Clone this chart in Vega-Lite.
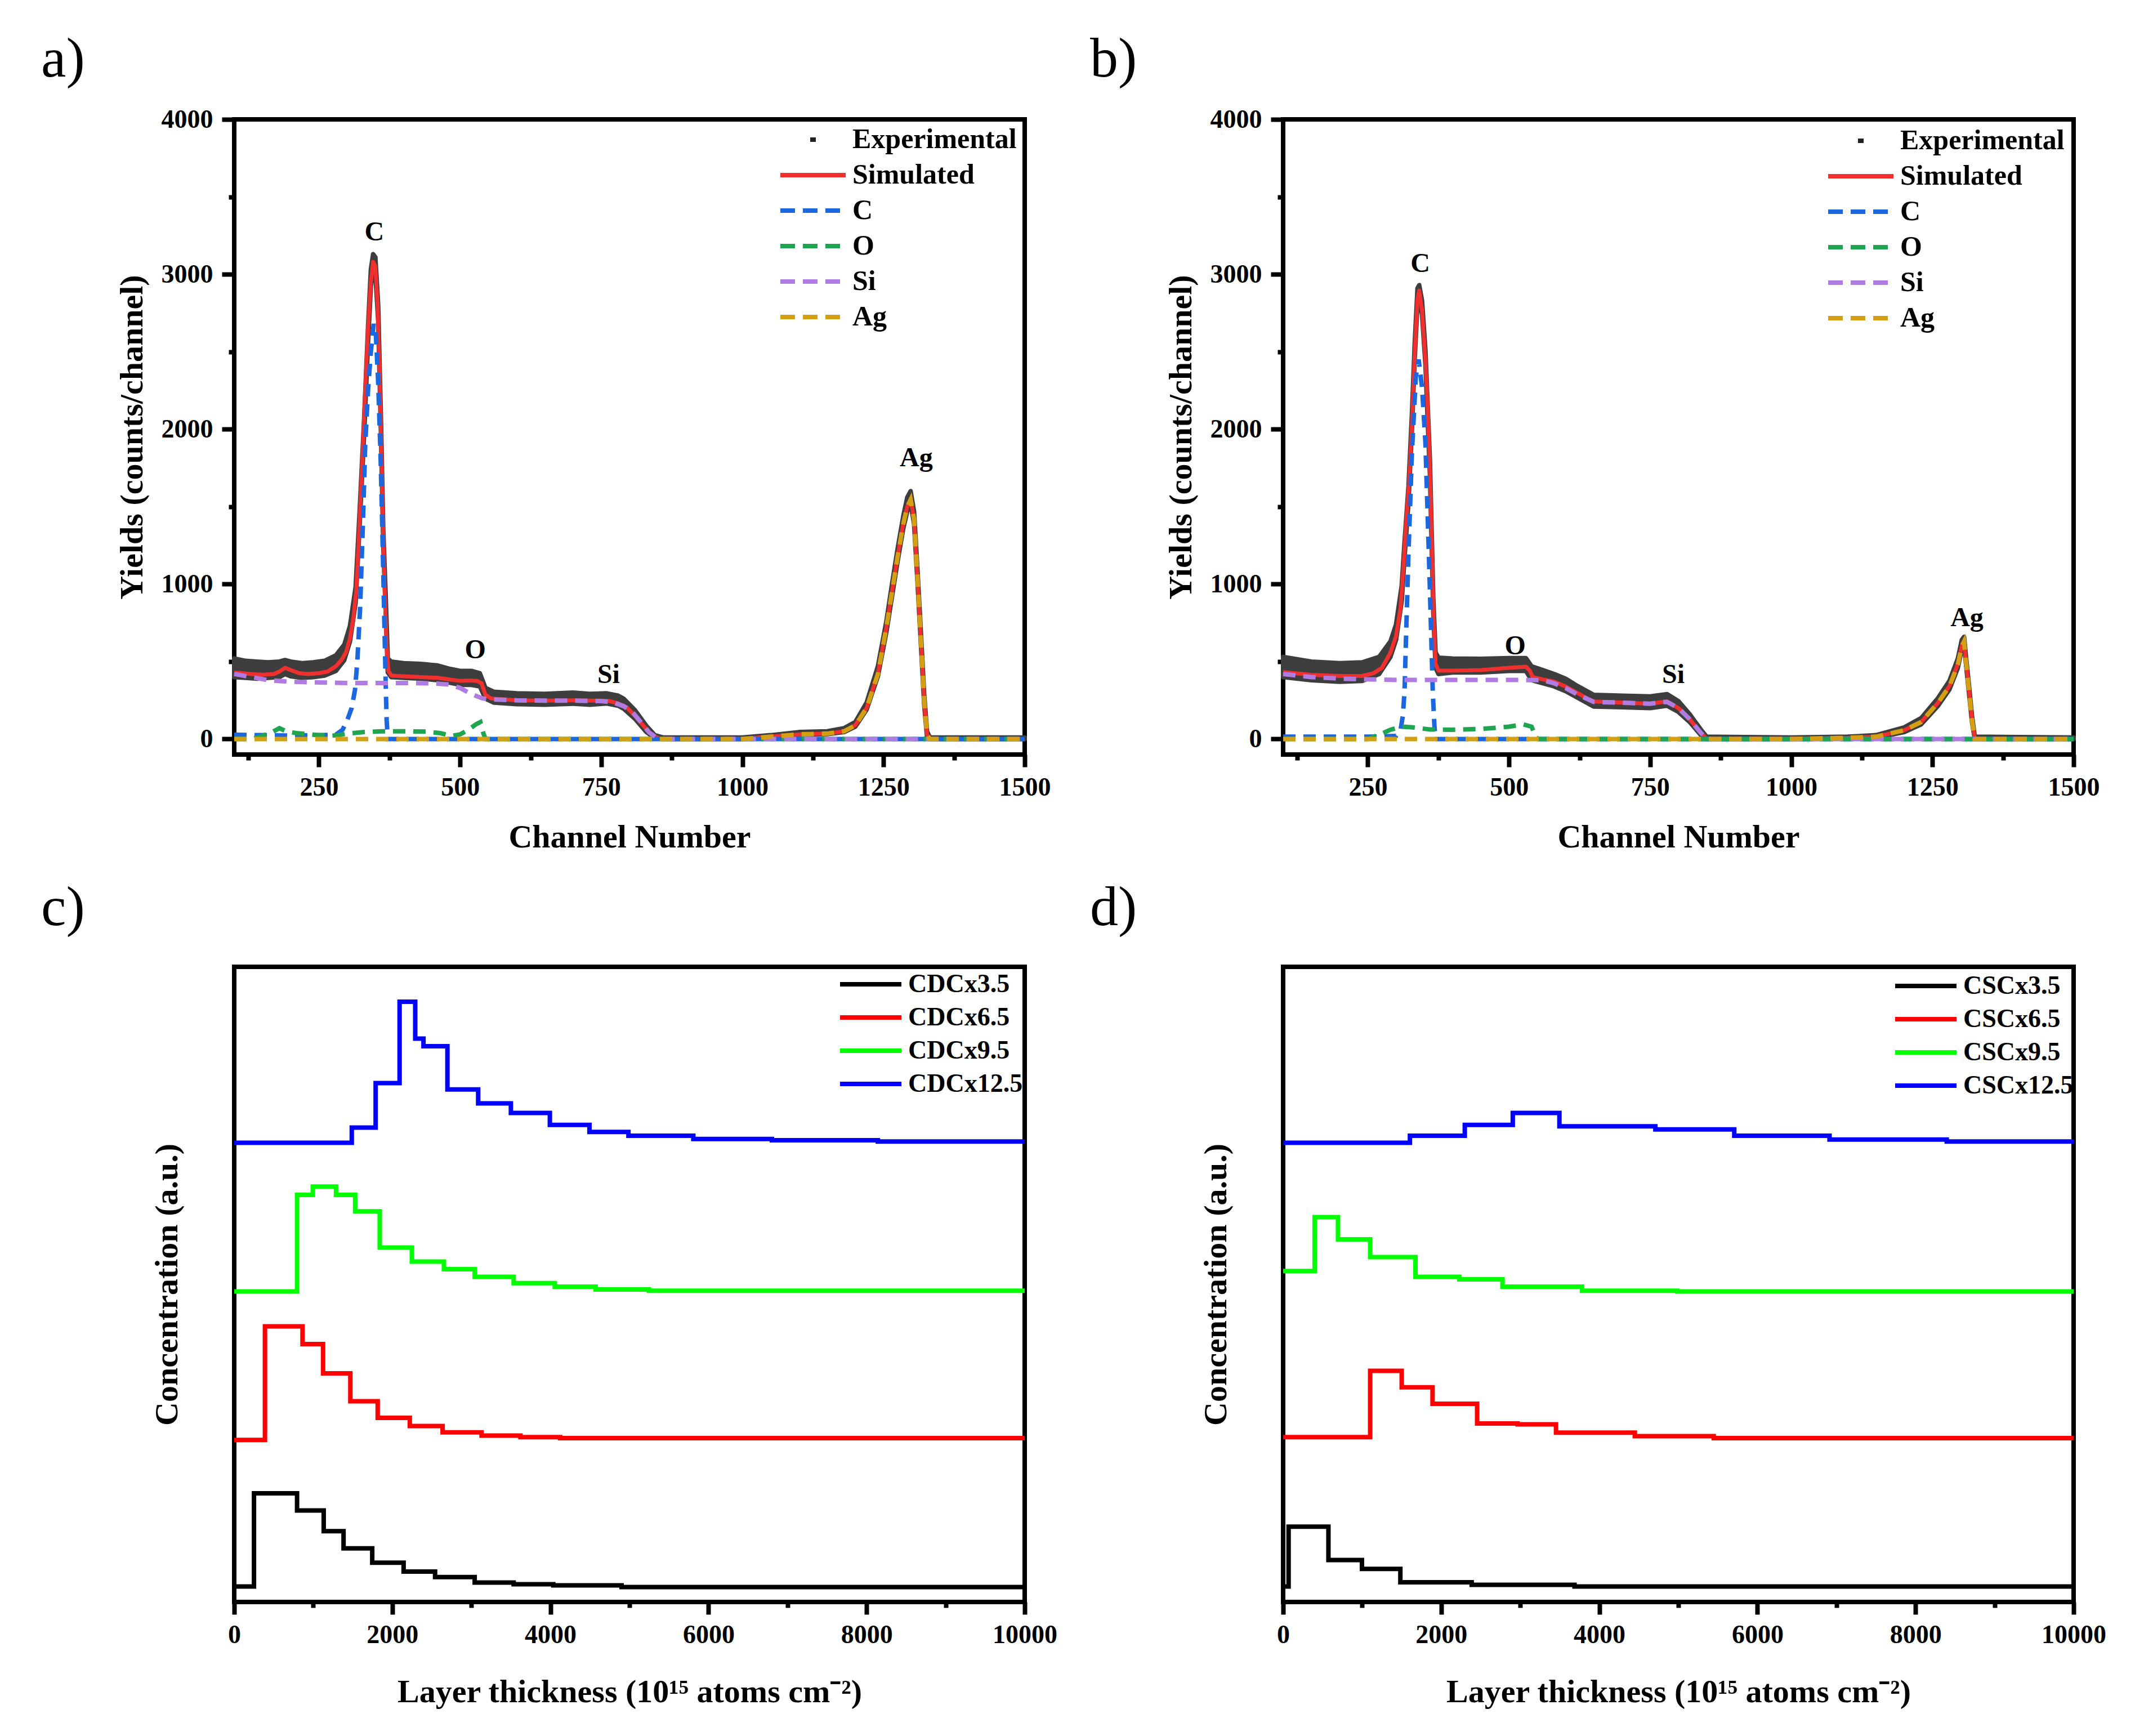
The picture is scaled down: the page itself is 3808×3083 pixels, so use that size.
{
 "$schema": "https://vega.github.io/schema/vega-lite/v6.json",
 "autosize": {"type": "none"},
 "padding": {"left": 416, "top": 212, "right": 3392, "bottom": 2871},
 "background": "white",
 "config": {
  "font": "Liberation Serif",
  "view": {"stroke": "black", "strokeWidth": 8},
  "axis": {"domain": false, "grid": false, "tickColor": "black", "tickWidth": 8, "tickSize": 22, "labelFont": "Liberation Serif", "labelFontWeight": "bold", "labelFontSize": 46, "labelColor": "black", "labelPadding": 14, "labelFlush": false, "labelOverlap": false, "titleFont": "Liberation Serif", "titleFontWeight": "bold", "titleFontSize": 58, "titleColor": "black"},
  "axisLeft": {"labelPadding": 16},
  "legend": {"labelFont": "Liberation Serif", "labelFontWeight": "bold", "labelColor": "black", "labelLimit": 2000, "padding": 0, "orient": "none", "symbolType": "stroke", "symbolStrokeWidth": 8, "labelOffset": 8},
  "title": {"font": "Liberation Serif", "fontSize": 100, "fontWeight": "normal", "color": "black", "anchor": "start", "frame": "group", "baseline": "alphabetic"}
 },
 "datasets": {
  "expA": [
   {"x":100,"lo":400,"hi":520},{"x":120,"lo":395,"hi":505},{"x":140,"lo":390,"hi":500},{"x":160,"lo":395,"hi":495},{"x":180,"lo":400,"hi":500},{"x":190,"lo":420,"hi":510},{"x":200,"lo":405,"hi":500},{"x":220,"lo":395,"hi":490},{"x":240,"lo":400,"hi":495},{"x":260,"lo":410,"hi":505},{"x":280,"lo":440,"hi":540},{"x":295,"lo":510,"hi":610},{"x":305,"lo":630,"hi":730},{"x":315,"lo":880,"hi":980},{"x":322,"lo":1370,"hi":1460},{"x":330,"lo":1960,"hi":2060},{"x":337,"lo":2560,"hi":2660},{"x":342,"lo":2920,"hi":3030},{"x":346,"lo":3050,"hi":3130},{"x":350,"lo":3000,"hi":3110},{"x":355,"lo":2700,"hi":2800},{"x":360,"lo":1950,"hi":2050},{"x":364,"lo":1250,"hi":1350},{"x":368,"lo":850,"hi":950},{"x":372,"lo":430,"hi":520},{"x":378,"lo":400,"hi":500},{"x":400,"lo":395,"hi":490},{"x":430,"lo":390,"hi":485},{"x":460,"lo":380,"hi":475},{"x":480,"lo":365,"hi":455},{"x":500,"lo":350,"hi":440},{"x":520,"lo":350,"hi":440},{"x":535,"lo":340,"hi":425},{"x":545,"lo":260,"hi":330},{"x":560,"lo":235,"hi":305},{"x":600,"lo":225,"hi":295},{"x":650,"lo":222,"hi":292},{"x":700,"lo":228,"hi":300},{"x":730,"lo":222,"hi":292},{"x":760,"lo":230,"hi":295},{"x":780,"lo":215,"hi":280},{"x":790,"lo":195,"hi":260},{"x":810,"lo":130,"hi":185},{"x":830,"lo":45,"hi":85},{"x":845,"lo":5,"hi":25},{"x":860,"lo":0,"hi":10},{"x":1000,"lo":0,"hi":10},{"x":1050,"lo":10,"hi":25},{"x":1100,"lo":28,"hi":45},{"x":1150,"lo":32,"hi":50},{"x":1180,"lo":45,"hi":70},{"x":1200,"lo":80,"hi":110},{"x":1220,"lo":190,"hi":235},{"x":1240,"lo":405,"hi":470},{"x":1255,"lo":690,"hi":760},{"x":1265,"lo":920,"hi":1000},{"x":1275,"lo":1150,"hi":1230},{"x":1285,"lo":1360,"hi":1440},{"x":1292,"lo":1470,"hi":1560},{"x":1298,"lo":1520,"hi":1600},{"x":1304,"lo":1390,"hi":1470},{"x":1310,"lo":1020,"hi":1100},{"x":1316,"lo":620,"hi":700},{"x":1322,"lo":220,"hi":290},{"x":1327,"lo":15,"hi":50},{"x":1332,"lo":0,"hi":10},{"x":1500,"lo":0,"hi":10}
  ],
  "specA": [
   {"s":"Simulated","x":100,"y":430},{"s":"Simulated","x":130,"y":420},{"s":"Simulated","x":150,"y":415},{"s":"Simulated","x":170,"y":420},{"s":"Simulated","x":180,"y":435},{"s":"Simulated","x":190,"y":460},{"s":"Simulated","x":200,"y":445},{"s":"Simulated","x":215,"y":425},{"s":"Simulated","x":230,"y":420},{"s":"Simulated","x":250,"y":425},{"s":"Simulated","x":265,"y":435},{"s":"Simulated","x":280,"y":470},{"s":"Simulated","x":290,"y":510},{"s":"Simulated","x":298,"y":560},{"s":"Simulated","x":305,"y":650},{"s":"Simulated","x":311,"y":780},{"s":"Simulated","x":316,"y":950},{"s":"Simulated","x":322,"y":1400},{"s":"Simulated","x":327,"y":1800},{"s":"Simulated","x":332,"y":2250},{"s":"Simulated","x":337,"y":2650},{"s":"Simulated","x":342,"y":2950},{"s":"Simulated","x":346,"y":3080},{"s":"Simulated","x":350,"y":3050},{"s":"Simulated","x":354,"y":2800},{"s":"Simulated","x":358,"y":2300},{"s":"Simulated","x":361,"y":1800},{"s":"Simulated","x":364,"y":1300},{"s":"Simulated","x":367,"y":900},{"s":"Simulated","x":370,"y":600},{"s":"Simulated","x":373,"y":440},{"s":"Simulated","x":378,"y":410},{"s":"Simulated","x":400,"y":405},{"s":"Simulated","x":430,"y":400},{"s":"Simulated","x":460,"y":395},{"s":"Simulated","x":480,"y":385},{"s":"Simulated","x":500,"y":375},{"s":"Simulated","x":515,"y":378},{"s":"Simulated","x":530,"y":375},{"s":"Simulated","x":538,"y":360},{"s":"Simulated","x":545,"y":285},{"s":"Simulated","x":555,"y":262},{"s":"Simulated","x":580,"y":255},{"s":"Simulated","x":600,"y":250},{"s":"Simulated","x":650,"y":248},{"s":"Simulated","x":700,"y":250},{"s":"Simulated","x":730,"y":248},{"s":"Simulated","x":750,"y":248},{"s":"Simulated","x":765,"y":245},{"s":"Simulated","x":780,"y":230},{"s":"Simulated","x":795,"y":205},{"s":"Simulated","x":810,"y":150},{"s":"Simulated","x":825,"y":85},{"s":"Simulated","x":840,"y":25},{"s":"Simulated","x":852,"y":5},{"s":"Simulated","x":860,"y":0},{"s":"Simulated","x":1000,"y":3},{"s":"Simulated","x":1050,"y":15},{"s":"Simulated","x":1100,"y":30},{"s":"Simulated","x":1150,"y":35},{"s":"Simulated","x":1180,"y":50},{"s":"Simulated","x":1200,"y":90},{"s":"Simulated","x":1220,"y":200},{"s":"Simulated","x":1240,"y":420},{"s":"Simulated","x":1255,"y":720},{"s":"Simulated","x":1265,"y":950},{"s":"Simulated","x":1275,"y":1180},{"s":"Simulated","x":1285,"y":1390},{"s":"Simulated","x":1292,"y":1500},{"s":"Simulated","x":1298,"y":1550},{"s":"Simulated","x":1304,"y":1420},{"s":"Simulated","x":1310,"y":1050},{"s":"Simulated","x":1316,"y":650},{"s":"Simulated","x":1322,"y":250},{"s":"Simulated","x":1327,"y":30},{"s":"Simulated","x":1332,"y":0},{"s":"Simulated","x":1500,"y":0},
   {"s":"C","x":100,"y":28},{"s":"C","x":150,"y":25},{"s":"C","x":200,"y":22},{"s":"C","x":250,"y":25},{"s":"C","x":280,"y":28},{"s":"C","x":292,"y":60},{"s":"C","x":300,"y":120},{"s":"C","x":308,"y":200},{"s":"C","x":314,"y":320},{"s":"C","x":318,"y":500},{"s":"C","x":323,"y":850},{"s":"C","x":328,"y":1400},{"s":"C","x":332,"y":1900},{"s":"C","x":337,"y":2250},{"s":"C","x":342,"y":2500},{"s":"C","x":347,"y":2680},{"s":"C","x":351,"y":2600},{"s":"C","x":355,"y":2300},{"s":"C","x":359,"y":1850},{"s":"C","x":362,"y":1400},{"s":"C","x":365,"y":900},{"s":"C","x":368,"y":400},{"s":"C","x":370,"y":120},{"s":"C","x":372,"y":0},{"s":"C","x":1500,"y":0},
   {"s":"O","x":100,"y":0},{"s":"O","x":130,"y":0},{"s":"O","x":145,"y":15},{"s":"O","x":165,"y":40},{"s":"O","x":180,"y":70},{"s":"O","x":192,"y":50},{"s":"O","x":210,"y":38},{"s":"O","x":240,"y":28},{"s":"O","x":265,"y":20},{"s":"O","x":285,"y":25},{"s":"O","x":300,"y":35},{"s":"O","x":330,"y":45},{"s":"O","x":360,"y":50},{"s":"O","x":400,"y":50},{"s":"O","x":440,"y":48},{"s":"O","x":465,"y":38},{"s":"O","x":485,"y":20},{"s":"O","x":500,"y":30},{"s":"O","x":515,"y":60},{"s":"O","x":528,"y":95},{"s":"O","x":536,"y":110},{"s":"O","x":541,"y":40},{"s":"O","x":545,"y":0},{"s":"O","x":1500,"y":0},
   {"s":"Si","x":100,"y":420},{"s":"Si","x":130,"y":400},{"s":"Si","x":160,"y":380},{"s":"Si","x":200,"y":370},{"s":"Si","x":250,"y":365},{"s":"Si","x":300,"y":362},{"s":"Si","x":400,"y":362},{"s":"Si","x":450,"y":360},{"s":"Si","x":480,"y":352},{"s":"Si","x":500,"y":330},{"s":"Si","x":520,"y":290},{"s":"Si","x":540,"y":262},{"s":"Si","x":560,"y":255},{"s":"Si","x":600,"y":250},{"s":"Si","x":650,"y":248},{"s":"Si","x":700,"y":248},{"s":"Si","x":750,"y":245},{"s":"Si","x":770,"y":238},{"s":"Si","x":790,"y":212},{"s":"Si","x":805,"y":175},{"s":"Si","x":820,"y":110},{"s":"Si","x":835,"y":42},{"s":"Si","x":848,"y":8},{"s":"Si","x":860,"y":0},{"s":"Si","x":1500,"y":0},
   {"s":"Ag","x":100,"y":0},{"s":"Ag","x":1000,"y":0},{"s":"Ag","x":1050,"y":15},{"s":"Ag","x":1100,"y":30},{"s":"Ag","x":1150,"y":35},{"s":"Ag","x":1180,"y":50},{"s":"Ag","x":1200,"y":88},{"s":"Ag","x":1220,"y":200},{"s":"Ag","x":1240,"y":420},{"s":"Ag","x":1255,"y":720},{"s":"Ag","x":1265,"y":950},{"s":"Ag","x":1275,"y":1180},{"s":"Ag","x":1285,"y":1390},{"s":"Ag","x":1292,"y":1500},{"s":"Ag","x":1298,"y":1545},{"s":"Ag","x":1304,"y":1420},{"s":"Ag","x":1310,"y":1050},{"s":"Ag","x":1316,"y":650},{"s":"Ag","x":1322,"y":250},{"s":"Ag","x":1327,"y":30},{"s":"Ag","x":1332,"y":0},{"s":"Ag","x":1500,"y":0}
  ],
  "labA": [{"t":"C","x":348,"y":3268},{"t":"O","x":527,"y":574},{"t":"Si","x":763,"y":414},{"t":"Ag","x":1308,"y":1812}],
  "expB": [
   {"x":100,"lo":400,"hi":530},{"x":150,"lo":380,"hi":500},{"x":200,"lo":370,"hi":490},{"x":240,"lo":375,"hi":495},{"x":270,"lo":420,"hi":530},{"x":290,"lo":530,"hi":630},{"x":300,"lo":640,"hi":740},{"x":310,"lo":890,"hi":990},{"x":315,"lo":1170,"hi":1270},{"x":322,"lo":1530,"hi":1630},{"x":328,"lo":1990,"hi":2090},{"x":333,"lo":2450,"hi":2550},{"x":338,"lo":2810,"hi":2910},{"x":341,"lo":2860,"hi":2930},{"x":346,"lo":2740,"hi":2830},{"x":352,"lo":2420,"hi":2510},{"x":360,"lo":1700,"hi":1800},{"x":366,"lo":810,"hi":900},{"x":370,"lo":460,"hi":560},{"x":375,"lo":420,"hi":525},{"x":400,"lo":430,"hi":520},{"x":450,"lo":430,"hi":518},{"x":500,"lo":440,"hi":522},{"x":530,"lo":440,"hi":522},{"x":540,"lo":380,"hi":470},{"x":560,"lo":360,"hi":445},{"x":580,"lo":340,"hi":420},{"x":600,"lo":310,"hi":390},{"x":620,"lo":270,"hi":345},{"x":650,"lo":210,"hi":285},{"x":700,"lo":205,"hi":280},{"x":750,"lo":200,"hi":275},{"x":780,"lo":215,"hi":290},{"x":800,"lo":175,"hi":245},{"x":820,"lo":110,"hi":160},{"x":840,"lo":25,"hi":60},{"x":850,"lo":0,"hi":15},{"x":1000,"lo":0,"hi":10},{"x":1100,"lo":3,"hi":15},{"x":1150,"lo":8,"hi":25},{"x":1200,"lo":45,"hi":75},{"x":1230,"lo":95,"hi":135},{"x":1260,"lo":215,"hi":265},{"x":1280,"lo":320,"hi":375},{"x":1295,"lo":460,"hi":520},{"x":1302,"lo":580,"hi":640},{"x":1306,"lo":610,"hi":660},{"x":1310,"lo":460,"hi":510},{"x":1315,"lo":285,"hi":335},{"x":1320,"lo":110,"hi":150},{"x":1325,"lo":0,"hi":15},{"x":1500,"lo":0,"hi":10}
  ],
  "specB": [
   {"s":"Simulated","x":100,"y":432},{"s":"Simulated","x":150,"y":414},{"s":"Simulated","x":200,"y":407},{"s":"Simulated","x":240,"y":407},{"s":"Simulated","x":260,"y":425},{"s":"Simulated","x":275,"y":460},{"s":"Simulated","x":290,"y":557},{"s":"Simulated","x":300,"y":664},{"s":"Simulated","x":308,"y":850},{"s":"Simulated","x":313,"y":1100},{"s":"Simulated","x":318,"y":1400},{"s":"Simulated","x":323,"y":1650},{"s":"Simulated","x":328,"y":2019},{"s":"Simulated","x":333,"y":2483},{"s":"Simulated","x":338,"y":2840},{"s":"Simulated","x":341,"y":2895},{"s":"Simulated","x":346,"y":2768},{"s":"Simulated","x":352,"y":2447},{"s":"Simulated","x":356,"y":2150},{"s":"Simulated","x":360,"y":1734},{"s":"Simulated","x":363,"y":1300},{"s":"Simulated","x":366,"y":842},{"s":"Simulated","x":370,"y":485},{"s":"Simulated","x":375,"y":442},{"s":"Simulated","x":400,"y":442},{"s":"Simulated","x":450,"y":445},{"s":"Simulated","x":500,"y":460},{"s":"Simulated","x":530,"y":467},{"s":"Simulated","x":537,"y":440},{"s":"Simulated","x":542,"y":400},{"s":"Simulated","x":560,"y":385},{"s":"Simulated","x":580,"y":371},{"s":"Simulated","x":600,"y":340},{"s":"Simulated","x":620,"y":300},{"s":"Simulated","x":640,"y":260},{"s":"Simulated","x":650,"y":243},{"s":"Simulated","x":700,"y":235},{"s":"Simulated","x":750,"y":228},{"s":"Simulated","x":770,"y":238},{"s":"Simulated","x":780,"y":243},{"s":"Simulated","x":800,"y":200},{"s":"Simulated","x":820,"y":128},{"s":"Simulated","x":840,"y":39},{"s":"Simulated","x":850,"y":3},{"s":"Simulated","x":860,"y":0},{"s":"Simulated","x":1000,"y":3},{"s":"Simulated","x":1100,"y":8},{"s":"Simulated","x":1150,"y":15},{"s":"Simulated","x":1200,"y":57},{"s":"Simulated","x":1230,"y":110},{"s":"Simulated","x":1260,"y":235},{"s":"Simulated","x":1280,"y":342},{"s":"Simulated","x":1295,"y":485},{"s":"Simulated","x":1302,"y":600},{"s":"Simulated","x":1306,"y":635},{"s":"Simulated","x":1310,"y":480},{"s":"Simulated","x":1315,"y":307},{"s":"Simulated","x":1320,"y":128},{"s":"Simulated","x":1325,"y":0},{"s":"Simulated","x":1500,"y":0},
   {"s":"C","x":100,"y":15},{"s":"C","x":250,"y":15},{"s":"C","x":300,"y":20},{"s":"C","x":308,"y":60},{"s":"C","x":312,"y":150},{"s":"C","x":315,"y":307},{"s":"C","x":318,"y":700},{"s":"C","x":322,"y":1199},{"s":"C","x":328,"y":1841},{"s":"C","x":335,"y":2340},{"s":"C","x":340,"y":2450},{"s":"C","x":346,"y":2269},{"s":"C","x":352,"y":1912},{"s":"C","x":358,"y":1199},{"s":"C","x":362,"y":700},{"s":"C","x":365,"y":307},{"s":"C","x":368,"y":80},{"s":"C","x":370,"y":0},{"s":"C","x":1500,"y":0},
   {"s":"O","x":100,"y":0},{"s":"O","x":250,"y":0},{"s":"O","x":260,"y":15},{"s":"O","x":275,"y":35},{"s":"O","x":290,"y":60},{"s":"O","x":310,"y":80},{"s":"O","x":330,"y":75},{"s":"O","x":360,"y":62},{"s":"O","x":400,"y":60},{"s":"O","x":450,"y":65},{"s":"O","x":500,"y":80},{"s":"O","x":525,"y":95},{"s":"O","x":540,"y":80},{"s":"O","x":548,"y":10},{"s":"O","x":552,"y":0},{"s":"O","x":1500,"y":0},
   {"s":"Si","x":100,"y":420},{"s":"Si","x":150,"y":400},{"s":"Si","x":200,"y":390},{"s":"Si","x":250,"y":385},{"s":"Si","x":300,"y":382},{"s":"Si","x":400,"y":382},{"s":"Si","x":500,"y":382},{"s":"Si","x":560,"y":380},{"s":"Si","x":580,"y":360},{"s":"Si","x":600,"y":330},{"s":"Si","x":620,"y":290},{"s":"Si","x":650,"y":240},{"s":"Si","x":700,"y":235},{"s":"Si","x":750,"y":228},{"s":"Si","x":770,"y":238},{"s":"Si","x":780,"y":240},{"s":"Si","x":800,"y":200},{"s":"Si","x":820,"y":128},{"s":"Si","x":840,"y":39},{"s":"Si","x":850,"y":3},{"s":"Si","x":860,"y":0},{"s":"Si","x":1500,"y":0},
   {"s":"Ag","x":100,"y":0},{"s":"Ag","x":1000,"y":0},{"s":"Ag","x":1100,"y":8},{"s":"Ag","x":1150,"y":15},{"s":"Ag","x":1200,"y":57},{"s":"Ag","x":1230,"y":110},{"s":"Ag","x":1260,"y":235},{"s":"Ag","x":1280,"y":340},{"s":"Ag","x":1295,"y":480},{"s":"Ag","x":1302,"y":600},{"s":"Ag","x":1306,"y":630},{"s":"Ag","x":1310,"y":480},{"s":"Ag","x":1315,"y":300},{"s":"Ag","x":1320,"y":120},{"s":"Ag","x":1325,"y":0},{"s":"Ag","x":1500,"y":0}
  ],
  "labB": [{"t":"C","x":343,"y":3065},{"t":"O","x":511,"y":599},{"t":"Si","x":791,"y":414},{"t":"Ag","x":1311,"y":781}],
  "depC": [
   {"s":"CDCx3.5","x":0,"y":2.44},{"s":"CDCx3.5","x":250,"y":17.1},{"s":"CDCx3.5","x":795,"y":14.4},{"s":"CDCx3.5","x":1132,"y":11.15},{"s":"CDCx3.5","x":1383,"y":8.45},{"s":"CDCx3.5","x":1746,"y":6.18},{"s":"CDCx3.5","x":2143,"y":4.79},{"s":"CDCx3.5","x":2541,"y":3.92},{"s":"CDCx3.5","x":3042,"y":3.05},{"s":"CDCx3.5","x":3535,"y":2.79},{"s":"CDCx3.5","x":4036,"y":2.61},{"s":"CDCx3.5","x":4900,"y":2.35},{"s":"CDCx3.5","x":10000,"y":2.35},
   {"s":"CDCx6.5","x":0,"y":25.5},{"s":"CDCx6.5","x":389,"y":43.4},{"s":"CDCx6.5","x":864,"y":40.6},{"s":"CDCx6.5","x":1124,"y":36.0},{"s":"CDCx6.5","x":1469,"y":31.6},{"s":"CDCx6.5","x":1815,"y":29.0},{"s":"CDCx6.5","x":2221,"y":27.7},{"s":"CDCx6.5","x":2636,"y":26.7},{"s":"CDCx6.5","x":3129,"y":26.2},{"s":"CDCx6.5","x":3621,"y":25.96},{"s":"CDCx6.5","x":4123,"y":25.8},{"s":"CDCx6.5","x":10000,"y":25.8},
   {"s":"CDCx9.5","x":0,"y":48.9},{"s":"CDCx9.5","x":795,"y":64.1},{"s":"CDCx9.5","x":994,"y":65.4},{"s":"CDCx9.5","x":1288,"y":64.1},{"s":"CDCx9.5","x":1530,"y":61.5},{"s":"CDCx9.5","x":1841,"y":55.8},{"s":"CDCx9.5","x":2247,"y":53.6},{"s":"CDCx9.5","x":2653,"y":52.4},{"s":"CDCx9.5","x":3042,"y":51.2},{"s":"CDCx9.5","x":3535,"y":50.2},{"s":"CDCx9.5","x":4054,"y":49.65},{"s":"CDCx9.5","x":4572,"y":49.2},{"s":"CDCx9.5","x":5246,"y":49.0},{"s":"CDCx9.5","x":10000,"y":49.0},
   {"s":"CDCx12.5","x":0,"y":72.3},{"s":"CDCx12.5","x":1487,"y":74.7},{"s":"CDCx12.5","x":1789,"y":81.7},{"s":"CDCx12.5","x":2092,"y":94.5},{"s":"CDCx12.5","x":2290,"y":88.7},{"s":"CDCx12.5","x":2394,"y":87.5},{"s":"CDCx12.5","x":2697,"y":80.7},{"s":"CDCx12.5","x":3086,"y":78.5},{"s":"CDCx12.5","x":3500,"y":77.0},{"s":"CDCx12.5","x":3993,"y":75.1},{"s":"CDCx12.5","x":4494,"y":74.0},{"s":"CDCx12.5","x":4987,"y":73.4},{"s":"CDCx12.5","x":5808,"y":72.9},{"s":"CDCx12.5","x":6802,"y":72.7},{"s":"CDCx12.5","x":8142,"y":72.5},{"s":"CDCx12.5","x":10000,"y":72.5}
  ],
  "depD": [
   {"s":"CSCx3.5","x":0,"y":2.44},{"s":"CSCx3.5","x":69,"y":11.85},{"s":"CSCx3.5","x":573,"y":6.6},{"s":"CSCx3.5","x":997,"y":5.2},{"s":"CSCx3.5","x":1483,"y":3.1},{"s":"CSCx3.5","x":2385,"y":2.7},{"s":"CSCx3.5","x":3686,"y":2.44},{"s":"CSCx3.5","x":10000,"y":2.44},
   {"s":"CSCx6.5","x":0,"y":25.96},{"s":"CSCx6.5","x":1101,"y":36.4},{"s":"CSCx6.5","x":1500,"y":33.8},{"s":"CSCx6.5","x":1890,"y":31.2},{"s":"CSCx6.5","x":2454,"y":28.1},{"s":"CSCx6.5","x":2966,"y":27.96},{"s":"CSCx6.5","x":3452,"y":26.66},{"s":"CSCx6.5","x":4449,"y":26.1},{"s":"CSCx6.5","x":5447,"y":25.8},{"s":"CSCx6.5","x":10000,"y":25.8},
   {"s":"CSCx9.5","x":0,"y":52.1},{"s":"CSCx9.5","x":399,"y":60.6},{"s":"CSCx9.5","x":694,"y":57.1},{"s":"CSCx9.5","x":1101,"y":54.3},{"s":"CSCx9.5","x":1674,"y":51.2},{"s":"CSCx9.5","x":2229,"y":50.8},{"s":"CSCx9.5","x":2775,"y":49.65},{"s":"CSCx9.5","x":3781,"y":49.0},{"s":"CSCx9.5","x":4987,"y":48.9},{"s":"CSCx9.5","x":10000,"y":48.9},
   {"s":"CSCx12.5","x":0,"y":72.3},{"s":"CSCx12.5","x":1604,"y":73.4},{"s":"CSCx12.5","x":2298,"y":75.1},{"s":"CSCx12.5","x":2905,"y":77.0},{"s":"CSCx12.5","x":3495,"y":74.9},{"s":"CSCx12.5","x":4709,"y":74.4},{"s":"CSCx12.5","x":5707,"y":73.4},{"s":"CSCx12.5","x":6912,"y":72.8},{"s":"CSCx12.5","x":8395,"y":72.5},{"s":"CSCx12.5","x":10000,"y":72.5}
  ]
 },
 "concat": [
  {
   "width": 1404, "height": 1128,
   "title": {"text": "a)", "offset": 32, "dx": -343},
   "layer": [
    {"data": {"name": "expA"}, "mark": {"type": "area", "fill": "#3d3d3d", "stroke": "#3d3d3d", "strokeWidth": 8, "strokeJoin": "round"},
     "encoding": {
      "x": {"field": "x", "type": "quantitative", "scale": {"domain": [100, 1500], "nice": false, "zero": false}, "axis": {"values": [250, 500, 750, 1000, 1250, 1500], "format": "d", "title": "Channel Number", "titlePadding": 37, "orient": "bottom"}},
      "y": {"field": "lo", "type": "quantitative", "scale": {"domain": [-100, 4000], "nice": false, "zero": false}, "axis": {"values": [0, 1000, 2000, 3000, 4000], "format": "d", "title": "Yields (counts/channel)", "titlePadding": 22, "orient": "left"}},
      "y2": {"field": "hi"}
     }},
    {"data": {"name": "specA"}, "transform": [{"filter": "datum.s === 'Simulated'"}], "mark": {"type": "line", "color": "#f0302f", "strokeWidth": 7, "strokeJoin": "round"},
     "encoding": {
      "x": {"field": "x", "type": "quantitative", "scale": {"domain": [100, 1500], "nice": false, "zero": false}, "axis": null},
      "y": {"field": "y", "type": "quantitative", "scale": {"domain": [-100, 4000], "nice": false, "zero": false}, "axis": null}
     }},
    {"data": {"name": "specA"}, "transform": [{"filter": "datum.s !== 'Simulated'"}], "mark": {"type": "line", "strokeWidth": 8, "strokeDash": [22, 14]},
     "encoding": {
      "x": {"field": "x", "type": "quantitative", "scale": {"domain": [100, 1500], "nice": false, "zero": false}, "axis": null},
      "y": {"field": "y", "type": "quantitative", "scale": {"domain": [-100, 4000], "nice": false, "zero": false}, "axis": null},
      "color": {"field": "s", "type": "nominal", "scale": {"domain": ["Experimental", "Simulated", "C", "O", "Si", "Ag"], "range": ["#222222", "#f0302f", "#1b67e0", "#1fa550", "#b07ce3", "#d49f12"]},
       "legend": {"title": null, "legendX": 966, "legendY": 11, "symbolSize": 13456, "clipHeight": 50, "labelFontSize": 50, "rowPadding": 13,
        "encode": {"symbols": {"update": {
         "strokeDash": {"signal": "datum.value === 'Experimental' ? [0, 53, 10, 200] : (datum.value === 'Simulated' ? [1, 0] : [26, 14])"}
        }}}}}
     }},
    {"data": {"name": "labA"}, "mark": {"type": "text", "fontSize": 48, "fontWeight": "bold", "font": "Liberation Serif", "color": "black", "baseline": "middle", "align": "center"},
     "encoding": {
      "x": {"field": "x", "type": "quantitative", "scale": {"domain": [100, 1500], "nice": false, "zero": false}, "axis": {"values": [125, 375, 625, 875, 1125, 1375], "labels": false, "tickSize": 10, "title": null, "orient": "bottom"}},
      "y": {"field": "y", "type": "quantitative", "scale": {"domain": [-100, 4000], "nice": false, "zero": false}, "axis": {"values": [500, 1500, 2500, 3500], "labels": false, "tickSize": 10, "title": null, "orient": "left"}},
      "text": {"field": "t"}
     }}
   ],
   "resolve": {"axis": {"x": "independent", "y": "independent"}}
  },
  {
   "width": 1404, "height": 1128,
   "title": {"text": "b)", "offset": 32, "dx": -343},
   "layer": [
    {"data": {"name": "expB"}, "mark": {"type": "area", "fill": "#3d3d3d", "stroke": "#3d3d3d", "strokeWidth": 8, "strokeJoin": "round"},
     "encoding": {
      "x": {"field": "x", "type": "quantitative", "scale": {"domain": [100, 1500], "nice": false, "zero": false}, "axis": {"values": [250, 500, 750, 1000, 1250, 1500], "format": "d", "title": "Channel Number", "titlePadding": 37, "orient": "bottom"}},
      "y": {"field": "lo", "type": "quantitative", "scale": {"domain": [-100, 4000], "nice": false, "zero": false}, "axis": {"values": [0, 1000, 2000, 3000, 4000], "format": "d", "title": "Yields (counts/channel)", "titlePadding": 22, "orient": "left"}},
      "y2": {"field": "hi"}
     }},
    {"data": {"name": "specB"}, "transform": [{"filter": "datum.s === 'Simulated'"}], "mark": {"type": "line", "color": "#f0302f", "strokeWidth": 7, "strokeJoin": "round"},
     "encoding": {
      "x": {"field": "x", "type": "quantitative", "scale": {"domain": [100, 1500], "nice": false, "zero": false}, "axis": null},
      "y": {"field": "y", "type": "quantitative", "scale": {"domain": [-100, 4000], "nice": false, "zero": false}, "axis": null}
     }},
    {"data": {"name": "specB"}, "transform": [{"filter": "datum.s !== 'Simulated'"}], "mark": {"type": "line", "strokeWidth": 8, "strokeDash": [22, 14]},
     "encoding": {
      "x": {"field": "x", "type": "quantitative", "scale": {"domain": [100, 1500], "nice": false, "zero": false}, "axis": null},
      "y": {"field": "y", "type": "quantitative", "scale": {"domain": [-100, 4000], "nice": false, "zero": false}, "axis": null},
      "color": {"field": "s", "type": "nominal", "scale": {"domain": ["Experimental", "Simulated", "C", "O", "Si", "Ag"], "range": ["#222222", "#f0302f", "#1b67e0", "#1fa550", "#b07ce3", "#d49f12"]},
       "legend": {"title": null, "legendX": 964, "legendY": 13, "symbolSize": 13456, "clipHeight": 50, "labelFontSize": 50, "rowPadding": 13,
        "encode": {"symbols": {"update": {
         "strokeDash": {"signal": "datum.value === 'Experimental' ? [0, 53, 10, 200] : (datum.value === 'Simulated' ? [1, 0] : [26, 14])"}
        }}}}}
     }},
    {"data": {"name": "labB"}, "mark": {"type": "text", "fontSize": 48, "fontWeight": "bold", "font": "Liberation Serif", "color": "black", "baseline": "middle", "align": "center"},
     "encoding": {
      "x": {"field": "x", "type": "quantitative", "scale": {"domain": [100, 1500], "nice": false, "zero": false}, "axis": {"values": [125, 375, 625, 875, 1125, 1375], "labels": false, "tickSize": 10, "title": null, "orient": "bottom"}},
      "y": {"field": "y", "type": "quantitative", "scale": {"domain": [-100, 4000], "nice": false, "zero": false}, "axis": {"values": [500, 1500, 2500, 3500], "labels": false, "tickSize": 10, "title": null, "orient": "left"}},
      "text": {"field": "t"}
     }}
   ],
   "resolve": {"axis": {"x": "independent", "y": "independent"}}
  },
  {
   "width": 1404, "height": 1128,
   "title": {"text": "c)", "offset": 53, "dx": -343},
   "data": {"name": "depC"},
   "layer": [
    {"mark": {"type": "line", "interpolate": "step-after", "strokeWidth": 8},
     "encoding": {
      "x": {"field": "x", "type": "quantitative", "scale": {"domain": [0, 10000], "nice": false, "zero": false}, "axis": {"values": [0, 2000, 4000, 6000, 8000, 10000], "format": "d", "title": "Layer thickness (10¹⁵ atoms cm⁻²)", "titlePadding": 50, "orient": "bottom"}},
      "y": {"field": "y", "type": "quantitative", "scale": {"domain": [0, 100], "nice": false, "zero": false}, "axis": {"ticks": false, "labels": false, "title": "Concentration (a.u.)", "titlePadding": 90, "orient": "left"}},
      "color": {"field": "s", "type": "nominal", "scale": {"domain": ["CDCx3.5", "CDCx6.5", "CDCx9.5", "CDCx12.5"], "range": ["#000000", "#ff0000", "#00ff00", "#0000ff"]},
       "legend": {"title": null, "legendX": 1072, "legendY": 8, "symbolSize": 11881, "clipHeight": 46, "labelFontSize": 46, "rowPadding": 13}}
     }},
    {"mark": {"type": "line", "opacity": 0},
     "encoding": {
      "x": {"field": "x", "type": "quantitative", "scale": {"domain": [0, 10000], "nice": false, "zero": false}, "axis": {"values": [1000, 3000, 5000, 7000, 9000], "labels": false, "tickSize": 10, "title": null, "orient": "bottom"}},
      "y": {"field": "y", "type": "quantitative", "scale": {"domain": [0, 100], "nice": false, "zero": false}, "axis": {"ticks": false, "labels": false, "title": "Concentration (a.u.)", "titlePadding": 90, "orient": "left"}}
     }}
   ],
   "resolve": {"axis": {"x": "independent"}}
  },
  {
   "width": 1404, "height": 1128,
   "title": {"text": "d)", "offset": 53, "dx": -343},
   "data": {"name": "depD"},
   "layer": [
    {"mark": {"type": "line", "interpolate": "step-after", "strokeWidth": 8},
     "encoding": {
      "x": {"field": "x", "type": "quantitative", "scale": {"domain": [0, 10000], "nice": false, "zero": false}, "axis": {"values": [0, 2000, 4000, 6000, 8000, 10000], "format": "d", "title": "Layer thickness (10¹⁵ atoms cm⁻²)", "titlePadding": 50, "orient": "bottom"}},
      "y": {"field": "y", "type": "quantitative", "scale": {"domain": [0, 100], "nice": false, "zero": false}, "axis": {"ticks": false, "labels": false, "title": "Concentration (a.u.)", "titlePadding": 90, "orient": "left"}},
      "color": {"field": "s", "type": "nominal", "scale": {"domain": ["CSCx3.5", "CSCx6.5", "CSCx9.5", "CSCx12.5"], "range": ["#000000", "#ff0000", "#00ff00", "#0000ff"]},
       "legend": {"title": null, "legendX": 1083, "legendY": 11, "symbolSize": 11881, "clipHeight": 46, "labelFontSize": 46, "rowPadding": 13}}
     }},
    {"mark": {"type": "line", "opacity": 0},
     "encoding": {
      "x": {"field": "x", "type": "quantitative", "scale": {"domain": [0, 10000], "nice": false, "zero": false}, "axis": {"values": [1000, 3000, 5000, 7000, 9000], "labels": false, "tickSize": 10, "title": null, "orient": "bottom"}},
      "y": {"field": "y", "type": "quantitative", "scale": {"domain": [0, 100], "nice": false, "zero": false}, "axis": {"ticks": false, "labels": false, "title": "Concentration (a.u.)", "titlePadding": 90, "orient": "left"}}
     }}
   ],
   "resolve": {"axis": {"x": "independent"}}
  }
 ],
 "columns": 2,
 "spacing": {"row": 377, "column": 459},
 "bounds": "flush",
 "resolve": {"scale": {"color": "independent"}, "legend": {"color": "independent"}}
}
